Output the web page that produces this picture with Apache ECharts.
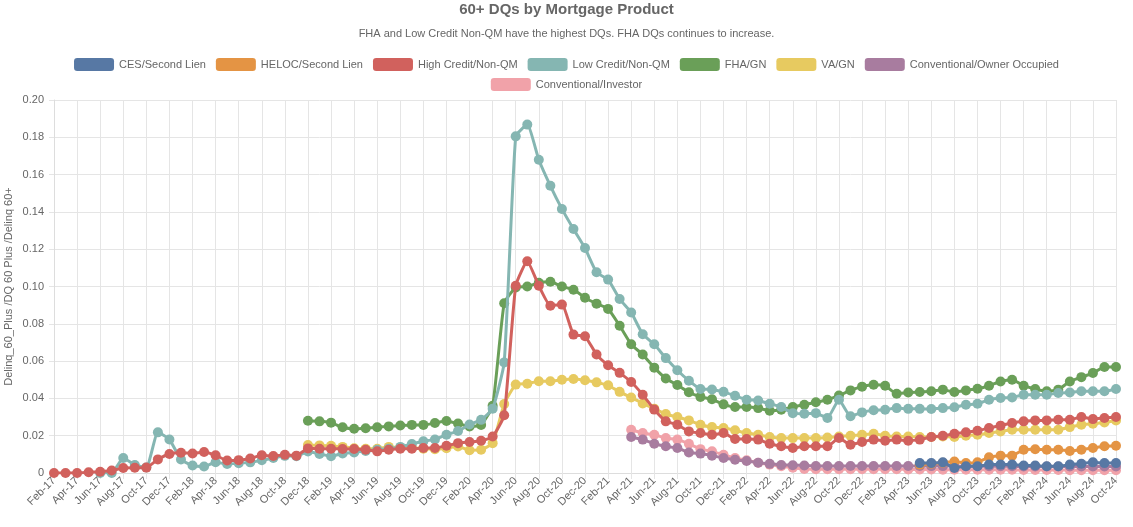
<!DOCTYPE html>
<html>
<head>
<meta charset="utf-8">
<script src="https://cdn.jsdelivr.net/npm/echarts@6/dist/echarts.min.js"></script>
<style>
html,body{margin:0;padding:0;background:#fff;}
#chart{width:1133px;height:527px;}
</style>
</head>
<body>
<div id="chart"></div>
<script>
var months = [
'Feb-17','Mar-17','Apr-17','May-17','Jun-17','Jul-17','Aug-17','Sep-17','Oct-17','Nov-17','Dec-17',
'Jan-18','Feb-18','Mar-18','Apr-18','May-18','Jun-18','Jul-18','Aug-18','Sep-18','Oct-18','Nov-18','Dec-18',
'Jan-19','Feb-19','Mar-19','Apr-19','May-19','Jun-19','Jul-19','Aug-19','Sep-19','Oct-19','Nov-19','Dec-19',
'Jan-20','Feb-20','Mar-20','Apr-20','May-20','Jun-20','Jul-20','Aug-20','Sep-20','Oct-20','Nov-20','Dec-20',
'Jan-21','Feb-21','Mar-21','Apr-21','May-21','Jun-21','Jul-21','Aug-21','Sep-21','Oct-21','Nov-21','Dec-21',
'Jan-22','Feb-22','Mar-22','Apr-22','May-22','Jun-22','Jul-22','Aug-22','Sep-22','Oct-22','Nov-22','Dec-22',
'Jan-23','Feb-23','Mar-23','Apr-23','May-23','Jun-23','Jul-23','Aug-23','Sep-23','Oct-23','Nov-23','Dec-23',
'Jan-24','Feb-24','Mar-24','Apr-24','May-24','Jun-24','Jul-24','Aug-24','Sep-24','Oct-24'
];

var seriesNames = ['CES/Second Lien','HELOC/Second Lien','High Credit/Non-QM','Low Credit/Non-QM','FHA/GN','VA/GN','Conventional/Owner Occupied','Conventional/Investor'];
var seriesColors = ['#5778a4','#e49444','#d1615d','#85b6b2','#6a9f58','#e7ca60','#a87c9f','#f1a2a9'];

var cesSecondLien = [
null,null,null,null,null,null,null,null,null,null,null,
null,null,null,null,null,null,null,null,null,null,null,null,
null,null,null,null,null,null,null,null,null,null,null,null,
null,null,null,null,null,null,null,null,null,null,null,null,
null,null,null,null,null,null,null,null,null,null,null,null,
null,null,null,null,null,null,null,null,null,null,null,null,
null,null,null,null,0.0053,0.0053,0.0057,0.0027,0.0036,0.0036,0.0045,0.0045,
0.0045,0.0040,0.0040,0.0036,0.0036,0.0045,0.0050,0.0057,0.0053,0.0053
];

var helocSecondLien = [
null,null,null,null,null,null,null,null,null,null,null,
null,null,null,null,null,null,null,null,null,null,null,null,
null,null,null,null,null,null,null,null,null,null,null,null,
null,null,null,null,null,null,null,null,null,null,null,null,
null,null,null,null,null,null,null,null,null,null,null,null,
null,null,null,null,null,null,null,null,null,null,null,null,
null,null,null,null,0.0045,0.0050,0.0055,0.0062,0.0053,0.0057,0.0084,0.0093,
0.0093,0.0125,0.0127,0.0125,0.0125,0.0118,0.0125,0.0134,0.0143,0.0146
];

var highCreditNonQM = [
0,0,0,0.0004,0.0007,0.0013,0.0027,0.0028,0.0029,0.0073,0.0102,
0.0109,0.0105,0.0113,0.0095,0.0067,0.0069,0.0078,0.0095,0.0091,0.0098,0.0093,0.0132,
0.0130,0.0130,0.0129,0.0129,0.0125,0.0116,0.0125,0.0130,0.0130,0.0134,0.0134,0.0146,
0.0160,0.0166,0.0173,0.0196,0.0310,0.1004,0.1135,0.1004,0.0897,0.0903,0.0742,0.0733,
0.0635,0.0578,0.0537,0.0488,0.0420,0.0340,0.0277,0.0259,0.0223,0.0214,0.0205,0.0214,
0.0182,0.0182,0.0179,0.0157,0.0143,0.0134,0.0143,0.0143,0.0143,0.0188,0.0152,0.0166,
0.0179,0.0173,0.0179,0.0173,0.0179,0.0193,0.0200,0.0210,0.0218,0.0227,0.0241,0.0254,
0.0268,0.0277,0.0282,0.0282,0.0286,0.0286,0.0300,0.0289,0.0295,0.0300
];

var lowCreditNonQM = [
null,null,null,null,0,0,0.0080,0.0043,0.0030,0.0218,0.0180,
0.0072,0.0040,0.0035,0.0058,0.0048,0.0052,0.0057,0.0068,0.0080,0.0092,0.0090,0.0115,
0.0102,0.0090,0.0105,0.0110,0.0118,0.0125,0.0130,0.0140,0.0155,0.0170,0.0180,0.0205,
0.0225,0.0260,0.0285,0.0345,0.0593,0.1805,0.1868,0.1680,0.1540,0.1416,0.1308,0.1206,
0.1076,0.1037,0.0933,0.0861,0.0744,0.0690,0.0616,0.0551,0.0495,0.0450,0.0448,0.0435,
0.0414,0.0393,0.0389,0.0371,0.0354,0.0321,0.0318,0.0321,0.0295,0.0393,0.0304,0.0325,
0.0336,0.0339,0.0348,0.0344,0.0344,0.0343,0.0348,0.0353,0.0366,0.0371,0.0393,0.0402,
0.0405,0.0420,0.0420,0.0420,0.0429,0.0432,0.0438,0.0438,0.0438,0.0450
];

var fhaGN = [
null,null,null,null,null,null,null,null,null,null,null,
null,null,null,null,null,null,null,null,null,null,null,0.0280,
0.0277,0.0270,0.0245,0.0237,0.0240,0.0245,0.0250,0.0255,0.0258,0.0258,0.0268,0.0279,
0.0265,0.0250,0.0258,0.0360,0.0910,0.0995,0.1000,0.1020,0.1025,0.1000,0.0983,0.0940,
0.0908,0.0880,0.0790,0.0690,0.0635,0.0565,0.0507,0.0472,0.0433,0.0408,0.0395,0.0368,
0.0354,0.0354,0.0348,0.0334,0.0339,0.0354,0.0366,0.0379,0.0393,0.0416,0.0443,0.0463,
0.0473,0.0468,0.0425,0.0432,0.0434,0.0438,0.0447,0.0434,0.0443,0.0452,0.0468,0.0491,
0.0500,0.0468,0.0450,0.0438,0.0447,0.0491,0.0514,0.0536,0.0568,0.0568
];

var vaGN = [
null,null,null,null,null,null,null,null,null,null,null,
null,null,null,null,null,null,null,null,null,null,null,0.0150,
0.0148,0.0146,0.0140,0.0133,0.0130,0.0130,0.0140,0.0136,0.0135,0.0130,0.0128,0.0133,
0.0142,0.0122,0.0125,0.0160,0.0370,0.0474,0.0479,0.0492,0.0492,0.0500,0.0504,0.0497,
0.0486,0.0470,0.0435,0.0405,0.0373,0.0345,0.0316,0.0300,0.0282,0.0259,0.0246,0.0241,
0.0229,0.0214,0.0205,0.0193,0.0187,0.0187,0.0187,0.0187,0.0190,0.0196,0.0200,0.0205,
0.0210,0.0200,0.0196,0.0196,0.0193,0.0193,0.0196,0.0193,0.0200,0.0205,0.0214,0.0223,
0.0232,0.0232,0.0232,0.0232,0.0232,0.0246,0.0259,0.0264,0.0271,0.0282
];

var convOwnerOccupied = [
null,null,null,null,null,null,null,null,null,null,null,
null,null,null,null,null,null,null,null,null,null,null,null,
null,null,null,null,null,null,null,null,null,null,null,null,
null,null,null,null,null,null,null,null,null,null,null,null,
null,null,null,0.0193,0.0179,0.0157,0.0143,0.0134,0.0110,0.0104,0.0093,0.0080,
0.0071,0.0064,0.0055,0.0049,0.0043,0.0042,0.0040,0.0038,0.0038,0.0038,0.0038,0.0038,
0.0038,0.0038,0.0038,0.0038,0.0038,0.0037,0.0037,0.0037,0.0036,0.0036,0.0036,0.0036,
0.0036,0.0035,0.0035,0.0035,0.0035,0.0035,0.0035,0.0035,0.0035,0.0035
];

var convInvestor = [
null,null,null,null,null,null,null,null,null,null,null,
null,null,null,null,null,null,null,null,null,null,null,null,
null,null,null,null,null,null,null,null,null,null,null,null,
null,null,null,null,null,null,null,null,null,null,null,null,
null,null,null,0.0232,0.0214,0.0205,0.0187,0.0179,0.0157,0.0128,0.0116,0.0098,
0.0080,0.0068,0.0055,0.0045,0.0036,0.0028,0.0022,0.0020,0.0020,0.0020,0.0020,0.0020,
0.0020,0.0020,0.0020,0.0019,0.0019,0.0019,0.0018,0.0018,0.0018,0.0018,0.0017,0.0017,
0.0017,0.0016,0.0016,0.0016,0.0016,0.0015,0.0015,0.0015,0.0015,0.0015
];

var allData = [cesSecondLien, helocSecondLien, highCreditNonQM, lowCreditNonQM, fhaGN, vaGN, convOwnerOccupied, convInvestor];

var FONT = 'Liberation Sans, Arial, Helvetica, sans-serif';
var chart = echarts.init(document.getElementById('chart'));

var series = seriesNames.map(function (name, i) {
  return {
    name: name,
    type: 'line',
    data: allData[i],
    z: 20 - i,
    symbol: 'circle',
    symbolSize: 10,
    showSymbol: true,
    showAllSymbol: true,
    smooth: 0.15,
    connectNulls: false,
    lineStyle: { width: 3, color: seriesColors[i] },
    itemStyle: { color: seriesColors[i] },
    emphasis: { disabled: true },
    animation: false
  };
});

var legendCommon = {
  left: 'center',
  itemWidth: 40,
  itemHeight: 13,
  itemGap: 10,
  icon: 'roundRect',
  textStyle: { fontFamily: FONT, fontSize: 11, color: '#666' }
};

chart.setOption({
  animation: false,
  color: seriesColors,
  title: {
    text: '60+ DQs by Mortgage Product',
    subtext: 'FHA and Low Credit Non-QM have the highest DQs. FHA DQs continues to increase.',
    left: 'center',
    top: -3,
    itemGap: 11,
    textStyle: { fontFamily: FONT, fontSize: 15, fontWeight: 'bold', color: '#666' },
    subtextStyle: { fontFamily: FONT, fontSize: 11, color: '#666' }
  },
  legend: [
    Object.assign({}, legendCommon, { data: seriesNames.slice(0, 7), top: 53 }),
    Object.assign({}, legendCommon, { data: seriesNames.slice(7), top: 73 })
  ],
  grid: { left: 54, right: 17, top: 100, bottom: 54, containLabel: false, outerBoundsMode: 'none' },
  xAxis: {
    type: 'category',
    data: months,
    boundaryGap: false,
    axisLine: { show: true, lineStyle: { color: '#ddd' } },
    axisTick: { show: true, interval: 1, length: 6, lineStyle: { color: '#e5e5e5' } },
    axisLabel: { interval: 1, rotate: 45, fontFamily: FONT, fontSize: 11, color: '#666', margin: 6 },
    splitLine: { show: true, interval: 1, lineStyle: { color: '#e5e5e5' } }
  },
  yAxis: {
    type: 'value',
    min: 0,
    max: 0.2,
    interval: 0.02,
    name: 'Delinq_60_Plus /DQ 60 Plus /Delinq 60+',
    nameLocation: 'middle',
    nameGap: 40,
    nameMoveOverlap: false,
    nameTextStyle: { fontFamily: FONT, fontSize: 11, color: '#666' },
    axisLine: { show: true, lineStyle: { color: '#ddd' } },
    axisTick: { show: true, length: 5, lineStyle: { color: '#e5e5e5' } },
    axisLabel: {
      fontFamily: FONT, fontSize: 11, color: '#666', margin: 10,
      formatter: function (v) { return v === 0 ? '0' : v.toFixed(2); }
    },
    splitLine: { show: true, lineStyle: { color: '#e5e5e5' } }
  },
  series: series
});
</script>
</body>
</html>
